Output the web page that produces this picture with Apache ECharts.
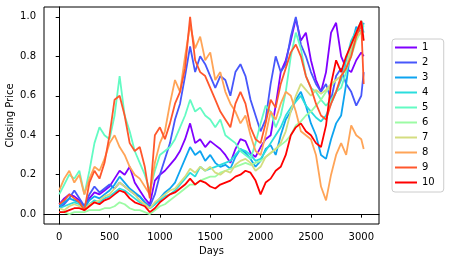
<!DOCTYPE html>
<html>
<head>
<meta charset="utf-8">
<script src="https://cdn.jsdelivr.net/npm/echarts@6/dist/echarts.min.js"></script>
<style>html,body{margin:0;padding:0;background:#fff}#c{width:451px;height:262px}</style>
</head>
<body>
<div id="c"></div>
<script>
// Sample days (every 50 days, plus the last day)
const DAYS = [0,50,100,150,200,250,300,350,400,450,500,550,600,650,700,750,800,850,900,950,
1000,1050,1100,1150,1200,1250,1300,1350,1400,1450,1500,1550,1600,1650,1700,1750,1800,1850,1900,1950,
2000,2050,2100,2150,2200,2250,2300,2350,2400,2450,2500,2550,2600,2650,2700,2750,2800,2850,2900,2950,3000,3024];

const S1 = [.05,.08,.10,.09,.07,.04,.08,.11,.10,.12, .14,.18,.22,.20,.24,.16,.12,.08,.05,.17,
.20,.22,.25,.28,.32,.38,.46,.36,.38,.34, .37,.35,.33,.30,.26,.33,.38,.37,.31,.29,
.34,.38,.40,.55,.72,.78,.88,.99,.88,.92, .78,.68,.62,.72,.92,.97,.80,.74,.72,.78, .82,.80];
const S2 = [.03,.05,.08,.12,.08,.04,.10,.14,.11,.13, .15,.13,.16,.14,.12,.10,.09,.06,.04,.10,
.20,.28,.36,.48,.56,.70,.85,.72,.80,.76, .70,.64,.70,.68,.60,.72,.76,.70,.58,.50,
.42,.48,.66,.80,.72,.76,.90,1.00,.86,.80, .72,.66,.62,.66,.58,.70,.74,.66,.62,.55, .60,.72];
const S3 = [.04,.06,.08,.07,.06,.03,.07,.09,.08,.10, .12,.15,.19,.16,.13,.11,.09,.06,.03,.05,
.08,.11,.13,.16,.22,.28,.34,.30,.32,.27, .30,.26,.24,.25,.23,.29,.33,.31,.28,.24,
.27,.33,.35,.30,.40,.48,.52,.58,.62,.55, .46,.40,.30,.28,.38,.46,.50,.66,.85,.95, .92,.97];
const S4 = [.03,.04,.05,.06,.05,.03,.05,.07,.06,.08, .09,.11,.13,.12,.10,.08,.06,.05,.03,.05,
.07,.09,.10,.12,.15,.18,.21,.19,.24,.22, .23,.24,.25,.26,.27,.30,.33,.32,.30,.27,
.28,.32,.36,.40,.44,.50,.54,.57,.60,.55, .52,.49,.47,.50,.56,.62,.68,.78,.88,.93, .97,.92];
const S5 = [.10,.15,.20,.18,.22,.10,.22,.36,.44,.40, .38,.50,.70,.50,.42,.32,.26,.20,.12,.22,
.30,.32,.34,.38,.44,.50,.58,.52,.54,.50, .48,.44,.48,.40,.38,.36,.32,.30,.28,.36,
.46,.55,.52,.44,.50,.62,.80,.92,.84,.70, .64,.62,.58,.55,.58,.62,.64,.72,.82,.92, .98,.95];
const S6 = [.01,.01,.00,.01,.01,.01,.02,.02,.02,.03, .03,.04,.06,.05,.03,.02,.02,.01,.00,.02,
.04,.05,.07,.09,.11,.13,.15,.15,.17,.18, .19,.19,.21,.22,.23,.24,.25,.26,.25,.26,
.27,.29,.31,.33,.35,.37,.40,.45,.47,.50, .52,.55,.58,.62,.65,.68,.70,.74,.80,.88, .93,.90];
const S7 = [.03,.02,.04,.05,.04,.02,.05,.06,.07,.09, .10,.13,.16,.14,.12,.10,.07,.05,.03,.06,
.08,.10,.12,.13,.16,.19,.23,.21,.24,.22, .24,.21,.20,.22,.21,.25,.27,.28,.26,.22,
.24,.29,.31,.33,.36,.42,.52,.60,.66,.63, .60,.63,.61,.63,.66,.68,.70,.74,.85,.90, .92,.88];
const S8 = [.12,.18,.22,.16,.20,.10,.18,.24,.22,.28, .36,.40,.34,.30,.24,.20,.18,.14,.10,.26,
.36,.42,.56,.68,.62,.80,.96,.84,.90,.78, .82,.68,.72,.62,.56,.52,.46,.50,.40,.32,
.30,.40,.52,.48,.56,.62,.60,.52,.42,.40, .38,.30,.14,.07,.20,.30,.36,.30,.45,.40, .38,.33];
const S9 = [.05,.07,.10,.08,.06,.02,.16,.22,.18,.26, .40,.58,.60,.50,.36,.32,.34,.24,.08,.40,
.44,.38,.46,.56,.62,.74,1.00,.78,.72,.70, .64,.58,.52,.48,.44,.56,.62,.56,.44,.38,
.36,.46,.58,.54,.66,.74,.82,.86,.80,.70, .64,.56,.50,.48,.56,.62,.70,.74,.80,.90, .96,.66];
const S10 = [.01,.01,.02,.03,.03,.02,.04,.06,.05,.07, .08,.10,.12,.11,.08,.06,.05,.04,.01,.03,
.06,.08,.10,.11,.13,.15,.18,.15,.17,.16, .14,.13,.15,.16,.17,.19,.20,.22,.21,.17,
.10,.16,.18,.22,.24,.30,.40,.44,.46,.42, .40,.36,.34,.45,.66,.78,.72,.80,.86,.92, .98,.88];

const NAMES = ['1','2','3','4','5','6','7','8','9','10'];
const VALUES = [S1,S2,S3,S4,S5,S6,S7,S8,S9,S10];
const COLORS = ['#8000ff','#4757fb','#0ea4f0','#2adddd','#63fbc3','#9cfba4','#d4dd80','#ffa457','#ff572c','#ff0000'];
const XTICKS = [0,500,1000,1500,2000,2500,3000];
const YTICKS = [0,0.2,0.4,0.6,0.8,1.0];

const FONT = 'DejaVu Sans';
const chart = echarts.init(document.getElementById('c'), null, {renderer:'canvas'});
chart.setOption({
  animation:false,
  backgroundColor:'#fff',
  grid:{left:44,right:72,top:7,bottom:38,show:true,borderColor:'#000',borderWidth:1,
    backgroundColor:'transparent',containLabel:false,outerBoundsMode:'none'},
  xAxis:{type:'value',min:-151,max:3176,
    axisLine:{show:true,lineStyle:{color:'#000',width:1}},
    splitLine:{show:false},
    axisTick:{show:true,length:3.5,lineStyle:{color:'#000',width:1},customValues:XTICKS},
    axisLabel:{customValues:XTICKS,fontSize:10,color:'#000',margin:8,fontFamily:FONT,
      formatter:v=>String(v)},
    name:'Days',nameLocation:'middle',nameGap:22,nameMoveOverlap:false,
    nameTextStyle:{fontSize:10,color:'#000',fontFamily:FONT}},
  yAxis:{type:'value',min:-0.05,max:1.05,
    axisLine:{show:true,lineStyle:{color:'#000',width:1}},
    splitLine:{show:false},
    axisTick:{show:true,length:3.5,lineStyle:{color:'#000',width:1},customValues:YTICKS},
    axisLabel:{customValues:YTICKS,fontSize:10,color:'#000',margin:8,fontFamily:FONT,
      formatter:v=>v.toFixed(1)},
    name:'Closing Price',nameLocation:'middle',nameGap:29,nameRotate:90,nameMoveOverlap:false,
    nameTextStyle:{fontSize:10,color:'#000',fontFamily:FONT}},
  legend:{orient:'vertical',left:392,top:39,padding:[1,9,2,3],itemGap:0,itemWidth:22,itemHeight:2,
    icon:'rect',data:NAMES,
    textStyle:{fontSize:10,lineHeight:15,color:'#000',fontFamily:FONT},
    borderColor:'#cccccc',borderWidth:1,borderRadius:3,backgroundColor:'rgba(255,255,255,0.8)'},
  series:NAMES.map((n,k)=>({
    name:n,type:'line',symbol:'none',showSymbol:false,color:COLORS[k],
    lineStyle:{width:1.8,color:COLORS[k]},
    data:DAYS.map((d,i)=>[d,VALUES[k][i]])
  }))
});
</script>
</body>
</html>
